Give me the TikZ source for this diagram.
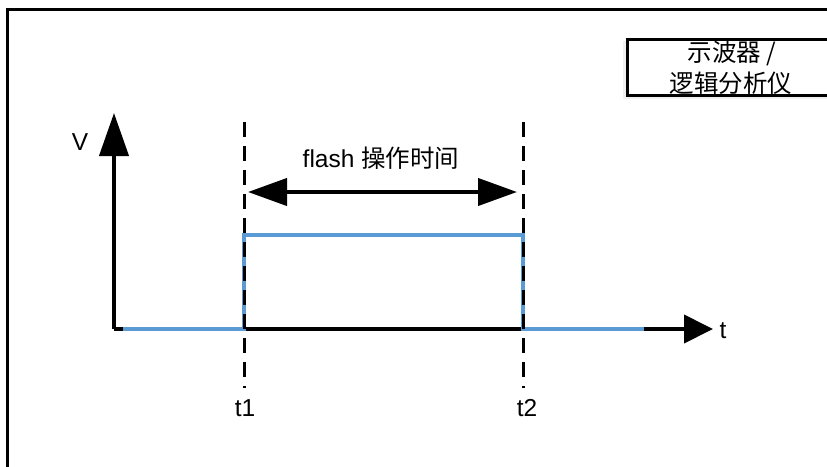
\documentclass[tikz,border=0pt]{standalone}
\usepackage{fontspec}
\setmainfont{Liberation Sans}
\newfontfamily\cjk{Noto Sans CJK SC}
\usetikzlibrary{arrows.meta}
\definecolor{sigblue}{HTML}{5B9BD5}
\tikzset{
  lbl/.style={font=\fontsize{24.5}{28}\selectfont, inner sep=0pt},
  axis/.style={line width=4pt},
  guide/.style={line width=3pt, dash pattern=on 15pt off 9pt},
  sig/.style={line width=4pt, sigblue},
}
\begin{document}
\begin{tikzpicture}[x=1pt,y=-1pt]
\useasboundingbox (0,0) rectangle (827,466);
\clip (0,0) rectangle (827,466);
% outer frame
\draw[line width=3.5pt] (7.5,9.5) rectangle (860,490);
% legend box
\fill[gray!12] (623,41) rectangle (860,99);
\draw[line width=3pt, fill=white] (627,39) rectangle (860,95);
\node[lbl] (box1) at (732,53) {\cjk 示波器 /};
\node[lbl] (box2) at (731,83) {\cjk 逻辑分析仪};
% coordinates
\coordinate (o) at (114,329);
\coordinate (ytip) at (114,113);
\coordinate (xtip) at (713,329);
\coordinate (s0) at (123,329);
\coordinate (s1) at (244,329);
\coordinate (s2) at (244,235);
\coordinate (s3) at (523,235);
\coordinate (s4) at (523,329);
\coordinate (s5) at (644,329);
\coordinate (d1a) at (244,122);
\coordinate (d1b) at (244,388);
\coordinate (d2a) at (523,122);
\coordinate (d2b) at (523,388);
\coordinate (aL) at (248,192);
\coordinate (aR) at (517,192);
% axes
\draw[axis, -{Triangle[length=43pt,width=29pt]}] (o) -- (ytip);
\draw[axis, -{Triangle[length=29pt,width=28pt]}] (o) -- (xtip);
% signal
\draw[sig] (s0) -- (s1) -- (s2) -- (s3) -- (s4) -- (s5);
% guides
\draw[guide] (d1a) -- (d1b);
\draw[guide] (d2a) -- (d2b);
% duration arrow
\draw[line width=4pt, {Triangle[length=39pt,width=27pt]}-{Triangle[length=39pt,width=27pt]}] (aL) -- (aR);
% labels
\node[lbl] (lv) at (80,142) {V};
\node[lbl] (lt) at (723,331) {t};
\node[lbl] (lt1) at (245,408) {t1};
\node[lbl] (lt2) at (527,408) {t2};
\node[lbl] (lflash) at (381,158) {flash {\cjk 操作时间}};
\end{tikzpicture}
\end{document}
